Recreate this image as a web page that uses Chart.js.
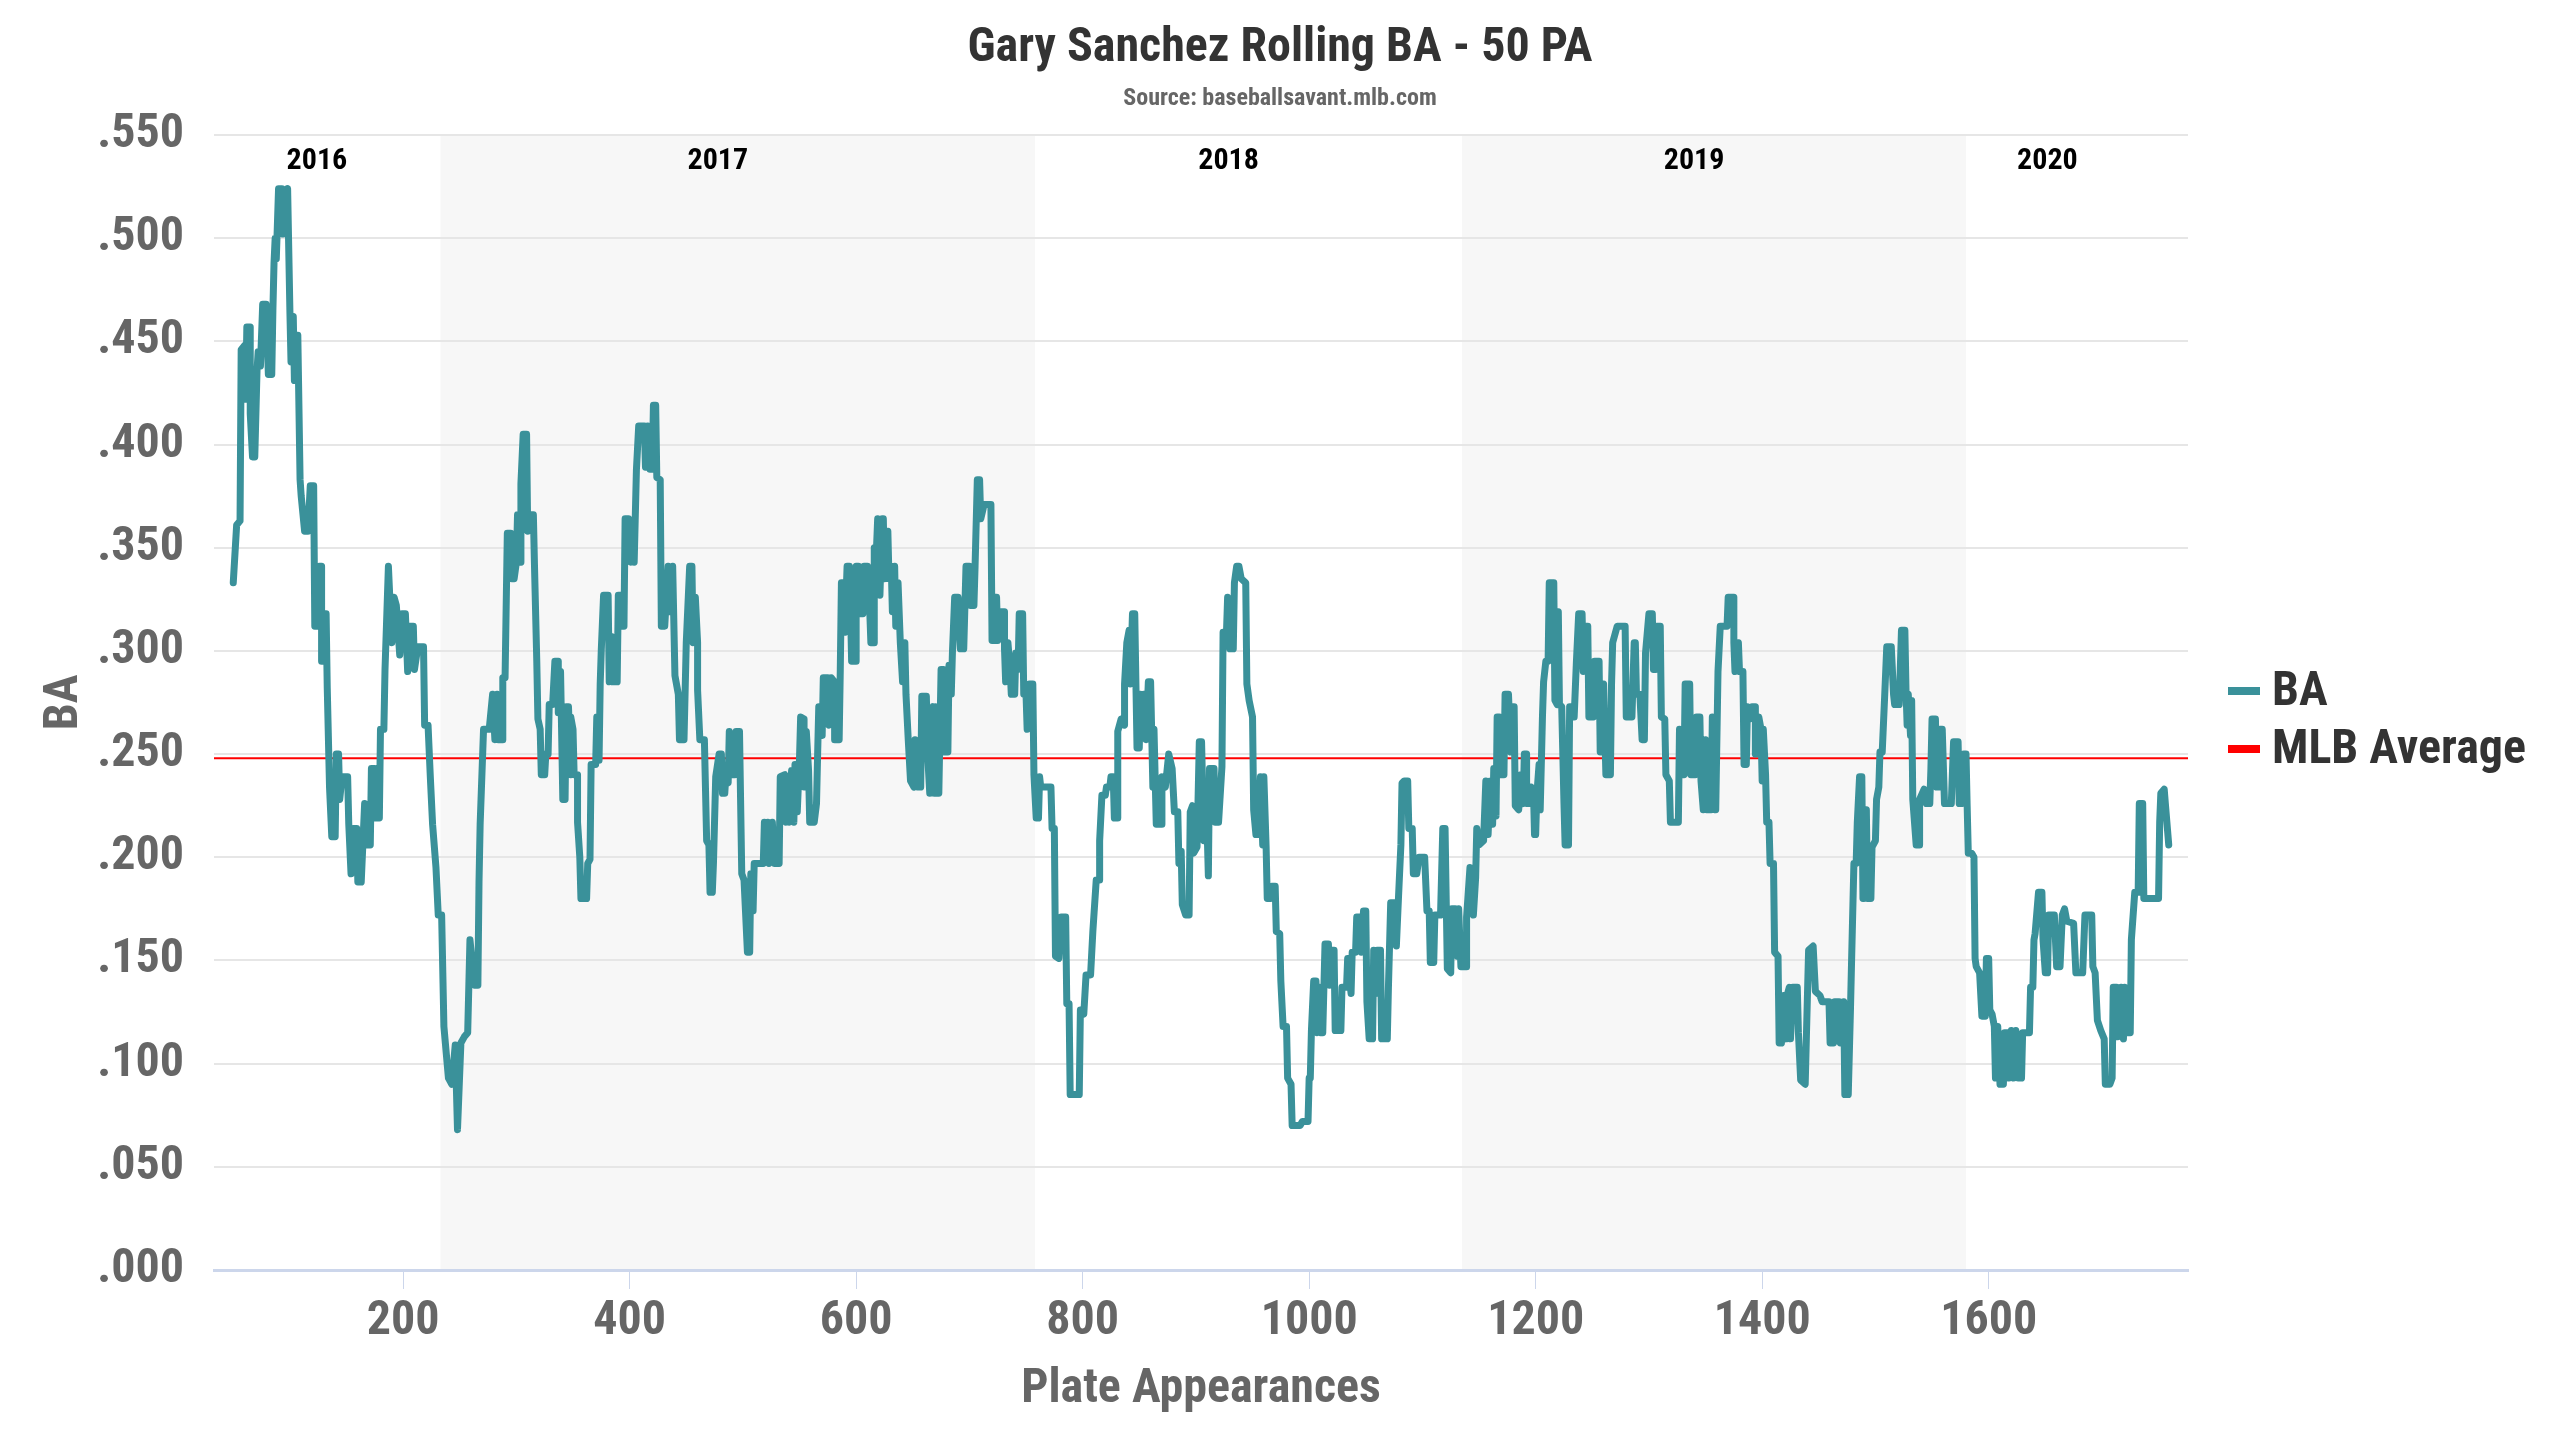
<!DOCTYPE html>
<html>
<head>
<meta charset="utf-8">
<title>Gary Sanchez Rolling BA</title>
<script src="https://cdn.jsdelivr.net/npm/chart.js@4.4.0/dist/chart.umd.min.js"></script>
<style>
  html, body { margin: 0; padding: 0; background: #fff; }
  #wrap { width: 2560px; height: 1440px; }
</style>
</head>
<body>
<div id="wrap"><canvas id="baChart"></canvas></div>
<script>
// rolling 50 PA batting average
var plateAppearances = [
  50,53,56,57,60,61,62,65,65,67,69,71,72,74,76,79,81,84,85,86,87,88,90,93,94,96,98,100,101,103,104,106,107,109,110,113,116,118,121,122,124,126,128,128,130,132,133,135,137,140,141,143,144,146,151,152,154,156,159,160,163,166,168,171,172,175,176,179,180,183,184,187,190,192,194,197,199,202,204,206,209,210,213,218,219,222,224,226,229,231,234,236,240,243,246,248,251,254,257,259,
  263,266,267,268,271,276,279,281,283,284,288,288,290,292,295,296,298,300,301,304,304,306,309,310,312,315,316,318,319,321,322,325,326,328,329,332,334,337,337,339,341,343,344,346,348,348,350,351,354,354,356,357,362,363,365,366,370,371,373,373,374,375,377,381,382,384,385,389,390,392,393,395,396,399,401,403,404,406,408,413,414,416,418,420,421,423,424,427,428,431,432,434,435,438,440,441,443,444,448,450,453,455,456,458,460,460,462,466,468,470,471,473,474,476,479,
  481,482,484,485,487,488,490,493,494,497,499,501,504,506,507,509,510,518,519,521,522,523,526,528,532,533,537,538,540,541,543,545,546,548,550,551,554,554,556,558,559,563,565,566,567,568,570,571,575,576,578,581,581,585,586,587,590,590,592,594,595,596,600,600,602,603,606,607,610,611,613,616,616,618,619,621,623,624,625,628,629,631,632,634,635,637,639,641,643,644,646,648,651,652,654,657,658,662,663,665,668,669,670,672,673,675,677,678,681,682,684,685,687,690,692,695,697,700,
  701,704,705,707,709,710,713,719,720,722,723,724,725,728,731,731,732,734,736,737,740,741,743,744,747,748,750,751,753,756,757,759,761,762,763,772,773,775,776,779,781,785,786,788,789,797,798,801,803,807,809,812,815,815,817,820,821,824,825,827,828,831,831,834,837,837,839,841,842,844,846,848,850,851,853,854,856,858,860,862,863,865,870,870,873,876,879,881,884,885,887,888,891,894,895,897,898,901,903,905,907,909,911,912,916,917,920,
  923,924,927,928,930,933,934,936,938,940,944,945,947,950,951,953,955,957,959,960,962,963,966,967,970,971,974,975,977,980,981,984,985,992,994,999,1000,1001,1002,1004,1006,1007,1009,1010,1012,1014,1017,1018,1020,1022,1023,1028,1029,1033,1034,1037,1038,1041,1042,1045,1046,1048,1050,1051,1053,1056,1057,1059,1060,1063,1064,1069,1070,1072,1076,1077,1079,1081,1082,1084,1087,1088,1091,1092,1095,1097,1102,1104,1106,1107,1110,1111,1116,1118,1120,1122,1125,1126,1129,1131,1132,1134,1139,1139,1142,
  1144,1145,1147,1148,1150,1154,1156,1158,1160,1162,1163,1165,1166,1168,1169,1172,1173,1176,1178,1179,1181,1182,1185,1187,1189,1190,1192,1192,1195,1196,1198,1199,1200,1201,1203,1204,1206,1207,1209,1211,1212,1216,1217,1219,1220,1221,1223,1225,1226,1229,1230,1234,1234,1236,1238,1241,1242,1244,1246,1247,1251,1252,1256,1257,1259,1260,1262,1266,1267,1268,1272,1279,1280,1285,1287,1288,1289,1292,1294,1296,1297,1300,1303,1304,1306,1307,1310,1311,1314,1315,1318,1319,1326,1327,1329,1331,1332,1336,1337,1341,1342,1345,1346,1348,1350,1351,1355,1356,1359,1361,1363,
  1369,1370,1375,1375,1376,1379,1380,1383,1384,1386,1387,1389,1391,1394,1394,1395,1397,1399,1400,1401,1403,1404,1406,1407,1410,1411,1414,1415,1417,1419,1421,1422,1424,1425,1427,1431,1432,1434,1438,1439,1441,1445,1447,1451,1453,1459,1460,1463,1464,1468,1469,1472,1473,1476,1478,1479,1481,1483,1484,1486,1488,1489,1492,1493,1496,1497,1500,1501,1503,1504,1506,1508,1510,1514,1516,1517,1521,1523,1526,1527,1528,1529,1531,1532,1533,1536,1539,1539,1543,1545,1548,1549,1550,1553,1554,1556,1557,1559,1561,1567,1569,1573,1574,1576,1578,1580,1581,1582,
  1585,1587,1588,1589,1592,1594,1597,1598,1600,1601,1603,1605,1606,1608,1610,1613,1614,1617,1618,1620,1622,1624,1626,1629,1630,1636,1637,1639,1640,1641,1644,1647,1648,1650,1652,1653,1658,1660,1663,1665,1667,1669,1675,1677,1683,1685,1691,1692,1694,1696,1699,1702,1703,1707,1709,1710,1713,1714,1717,1719,1720,1723,1725,1726,1729,1732,1733,1736,1737,1750,1751,1752,1755,1756,1759
];
var rollingBA = [
  .333,.361,.363,.446,.448,.422,.457,.457,.415,.394,.394,.436,.445,.438,.468,.468,.434,.434,.465,.488,.500,.490,.524,.524,.502,.521,.524,.465,.440,.462,.431,.453,.453,.383,.375,.358,.358,.380,.380,.312,.312,.341,.341,.295,.318,.318,.282,.234,.210,.210,.250,.250,.228,.239,.239,.216,.192,.214,.214,.188,.188,.226,.206,.206,.243,.243,.219,.219,.262,.262,.291,.341,.304,.326,.322,.298,.318,.318,.290,.312,.312,.291,.302,.302,.264,.264,.239,.216,.195,.172,.172,.118,.093,.090,.109,.068,.110,.113,.115,.160,
  .138,.138,.188,.216,.262,.262,.279,.257,.279,.257,.257,.287,.287,.357,.357,.335,.335,.343,.366,.343,.381,.405,.405,.358,.366,.366,.341,.295,.267,.262,.240,.240,.250,.250,.274,.274,.295,.295,.270,.290,.228,.228,.273,.273,.240,.268,.262,.240,.240,.217,.200,.180,.180,.197,.199,.245,.245,.268,.268,.247,.284,.301,.327,.327,.285,.307,.285,.285,.327,.327,.312,.312,.364,.364,.343,.363,.343,.388,.409,.409,.389,.409,.388,.388,.419,.419,.384,.383,.312,.312,.322,.341,.319,.341,.288,.285,.279,.257,.257,.304,.341,.341,.304,.326,.304,.281,.257,.257,.208,.206,.183,.183,.197,.239,.250,
  .250,.231,.231,.240,.236,.261,.240,.240,.261,.261,.192,.189,.154,.154,.192,.174,.197,.197,.217,.199,.217,.197,.217,.197,.197,.239,.240,.217,.239,.217,.242,.217,.245,.222,.248,.268,.267,.234,.261,.242,.217,.217,.226,.250,.273,.273,.259,.287,.287,.264,.287,.285,.257,.257,.291,.333,.333,.309,.341,.341,.322,.295,.295,.341,.341,.318,.318,.341,.341,.335,.304,.304,.350,.350,.364,.327,.364,.364,.335,.358,.335,.341,.319,.341,.312,.333,.304,.285,.304,.279,.257,.237,.234,.257,.234,.234,.278,.278,.251,.231,.273,.231,.273,.231,.231,.291,.291,.251,.251,.293,.279,.299,.326,.326,.301,.301,.341,.341,
  .322,.322,.341,.383,.383,.364,.371,.371,.305,.305,.326,.326,.305,.319,.319,.301,.285,.304,.291,.279,.279,.299,.291,.318,.318,.279,.279,.262,.284,.284,.240,.219,.219,.239,.234,.234,.214,.214,.152,.151,.171,.171,.129,.129,.085,.085,.126,.124,.143,.143,.164,.189,.189,.208,.230,.230,.234,.234,.239,.239,.219,.219,.261,.267,.264,.284,.304,.310,.284,.318,.318,.253,.253,.279,.259,.279,.257,.285,.285,.234,.262,.216,.216,.239,.234,.250,.243,.222,.222,.197,.203,.177,.172,.172,.222,.225,.202,.205,.256,.256,.208,.233,.191,.243,.243,.217,.217,
  .244,.309,.309,.326,.301,.301,.333,.341,.341,.335,.333,.284,.276,.268,.223,.211,.211,.239,.206,.239,.205,.180,.180,.186,.186,.164,.163,.140,.118,.118,.093,.090,.070,.070,.072,.072,.093,.093,.116,.140,.140,.115,.137,.115,.115,.158,.158,.138,.155,.155,.116,.116,.137,.137,.151,.134,.154,.154,.171,.171,.154,.174,.174,.130,.112,.112,.155,.134,.155,.155,.112,.112,.137,.178,.178,.157,.182,.206,.236,.237,.237,.214,.214,.192,.192,.200,.200,.174,.174,.149,.149,.172,.172,.214,.214,.146,.144,.175,.175,.152,.175,.147,.147,.171,.195,
  .190,.172,.190,.214,.206,.208,.237,.211,.237,.216,.243,.220,.268,.268,.240,.240,.279,.279,.251,.273,.273,.225,.223,.240,.226,.250,.250,.226,.226,.234,.233,.211,.211,.230,.245,.223,.268,.285,.295,.295,.333,.333,.276,.274,.319,.274,.273,.226,.206,.206,.273,.273,.268,.295,.318,.318,.290,.312,.312,.268,.268,.295,.295,.251,.251,.284,.240,.240,.284,.304,.312,.312,.268,.268,.304,.304,.279,.279,.257,.257,.299,.318,.318,.291,.291,.312,.312,.268,.267,.240,.237,.217,.217,.262,.240,.240,.284,.284,.240,.240,.268,.268,.237,.223,.257,.223,.223,.268,.223,.290,.312,
  .312,.326,.326,.304,.290,.304,.290,.290,.245,.245,.273,.267,.273,.273,.250,.250,.268,.262,.237,.262,.240,.217,.217,.197,.197,.154,.152,.110,.110,.133,.112,.133,.137,.112,.137,.137,.115,.092,.090,.112,.155,.157,.135,.133,.130,.130,.110,.110,.130,.130,.110,.130,.085,.085,.127,.151,.197,.197,.217,.239,.239,.180,.223,.180,.180,.205,.208,.228,.234,.251,.251,.276,.302,.302,.279,.274,.274,.310,.310,.281,.264,.279,.259,.276,.228,.206,.206,.228,.233,.226,.226,.243,.267,.267,.234,.234,.262,.262,.226,.226,.256,.256,.226,.226,.250,.250,.225,.202,
  .202,.200,.151,.147,.144,.123,.123,.151,.151,.126,.124,.118,.093,.118,.090,.090,.115,.115,.093,.116,.093,.116,.093,.093,.115,.115,.137,.137,.160,.163,.183,.183,.160,.144,.144,.172,.172,.147,.147,.172,.175,.169,.168,.144,.144,.172,.172,.147,.144,.121,.116,.112,.090,.090,.093,.137,.137,.113,.137,.112,.137,.115,.115,.160,.183,.183,.226,.226,.180,.180,.217,.231,.233,.226,.206
];
var mlbAverage = 0.248;

var seasons = ['2016', '2017', '2018', '2019', '2020'];
var seasonStart = [50, 233, 758, 1135, 1580];
var seasonEnd = [233, 758, 1135, 1580, 1759];
var seasonShaded = [false, true, false, true, false];

var xTicks = [200, 400, 600, 800, 1000, 1200, 1400, 1600];
var xMin = 33, xMax = 1776;

var titleText = 'Gary Sanchez Rolling BA - 50 PA';
var subtitleText = 'Source: baseballsavant.mlb.com';

var FONT = '"Roboto Condensed", "Liberation Sans Narrow", "Roboto", sans-serif';
var TEAL = '#3a919a';

var baPoints = plateAppearances.map(function(x, i) { return {x: x, y: rollingBA[i]}; });
var avgPoints = [{x: xMin, y: mlbAverage}, {x: xMax, y: mlbAverage}];

// grey bands behind the grid, one per shaded season, plus season labels
var seasonBands = {
  id: 'seasonBands',
  beforeDraw: function(chart) {
    var ctx = chart.ctx, area = chart.chartArea, xs = chart.scales.x;
    ctx.save();
    ctx.fillStyle = '#f7f7f7';
    for (var i = 0; i < seasons.length; i++) {
      if (!seasonShaded[i]) continue;
      var x1 = Math.max(area.left, xs.getPixelForValue(seasonStart[i]));
      var x2 = Math.min(area.right, xs.getPixelForValue(seasonEnd[i]));
      ctx.fillRect(x1, area.top, x2 - x1, area.bottom - area.top);
    }
    ctx.restore();
  },
  afterDraw: function(chart) {
    var ctx = chart.ctx, area = chart.chartArea, xs = chart.scales.x;
    ctx.save();
    ctx.font = 'bold 30px ' + FONT;
    ctx.fillStyle = '#000';
    ctx.textAlign = 'center';
    ctx.textBaseline = 'middle';
    for (var i = 0; i < seasons.length; i++) {
      var mid = xs.getPixelForValue((seasonStart[i] + seasonEnd[i]) / 2) - 20;
      ctx.fillText(seasons[i], mid, area.top + 26);
    }
    ctx.restore();
  }
};

// title centred on the whole canvas, legend on the right
var headerAndLegend = {
  id: 'headerAndLegend',
  afterDraw: function(chart) {
    var ctx = chart.ctx, area = chart.chartArea;
    var cx = chart.width / 2;
    ctx.save();
    ctx.textAlign = 'center';
    ctx.textBaseline = 'middle';
    ctx.fillStyle = '#333';
    ctx.font = 'bold 48px ' + FONT;
    ctx.fillText(titleText, cx, 49);
    ctx.fillStyle = '#666';
    ctx.font = 'bold 24px ' + FONT;
    ctx.fillText(subtitleText, cx, 99);

    var x = area.right + 40, y0 = chart.height / 2 - 29;
    ctx.font = 'bold 48px ' + FONT;
    ctx.textAlign = 'left';
    chart.data.datasets.forEach(function(ds, i) {
      var y = y0 + i * 58;
      ctx.fillStyle = ds.borderColor;
      ctx.fillRect(x, y - 4, 32, 8);
      ctx.fillStyle = '#333';
      ctx.fillText(ds.label, x + 44, y + 2);
    });
    ctx.restore();
  }
};

new Chart(document.getElementById('baChart'), {
  type: 'line',
  data: {
    datasets: [{
      label: 'BA',
      data: baPoints,
      borderColor: TEAL,
      backgroundColor: TEAL,
      borderWidth: 7,
      pointRadius: 0,
      tension: 0,
      borderJoinStyle: 'round',
      borderCapStyle: 'round',
      order: 1
    }, {
      label: 'MLB Average',
      data: avgPoints,
      borderColor: '#ff0000',
      backgroundColor: '#ff0000',
      borderWidth: 2,
      pointRadius: 0,
      order: 2
    }]
  },
  options: {
    responsive: true,
    maintainAspectRatio: false,
    animation: false,
    layout: { padding: { left: 0, right: 372, top: 135, bottom: 0 } },
    plugins: {
      legend: { display: false },
      tooltip: { enabled: false },
      title: { display: false },
      subtitle: { display: false }
    },
    scales: {
      x: {
        type: 'linear',
        min: xMin,
        max: xMax,
        afterBuildTicks: function(scale) {
          scale.ticks = xTicks.map(function(v) { return {value: v}; });
        },
        afterFit: function(scale) { scale.height = 170; },
        grid: {
          display: true,
          drawOnChartArea: false,
          drawTicks: true,
          tickLength: 19,
          color: '#ccd6eb',
          lineWidth: 1
        },
        border: { display: true, color: '#ccd6eb', width: 3 },
        ticks: {
          color: '#666',
          padding: 4,
          maxRotation: 0,
          font: { family: FONT, size: 48, weight: 'bold' },
          callback: function(v) { return String(v); }
        },
        title: {
          display: true,
          text: 'Plate Appearances',
          color: '#666',
          font: { family: FONT, size: 48, weight: 'bold' },
          padding: { top: 0, bottom: 21 }
        }
      },
      y: {
        min: 0,
        max: 0.55,
        afterFit: function(scale) { scale.width = 214; },
        grid: { color: '#e6e6e6', lineWidth: 2, drawTicks: false },
        border: { display: false },
        ticks: {
          stepSize: 0.05,
          color: '#666',
          padding: 30,
          font: { family: FONT, size: 48, weight: 'bold' },
          callback: function(v) { return '.' + String(Math.round(v * 1000)).padStart(3, '0'); }
        },
        title: {
          display: true,
          text: 'BA',
          color: '#666',
          font: { family: FONT, size: 48, weight: 'bold' },
          padding: { top: 36, bottom: 0 }
        }
      }
    }
  },
  plugins: [seasonBands, headerAndLegend]
});
</script>
</body>
</html>
